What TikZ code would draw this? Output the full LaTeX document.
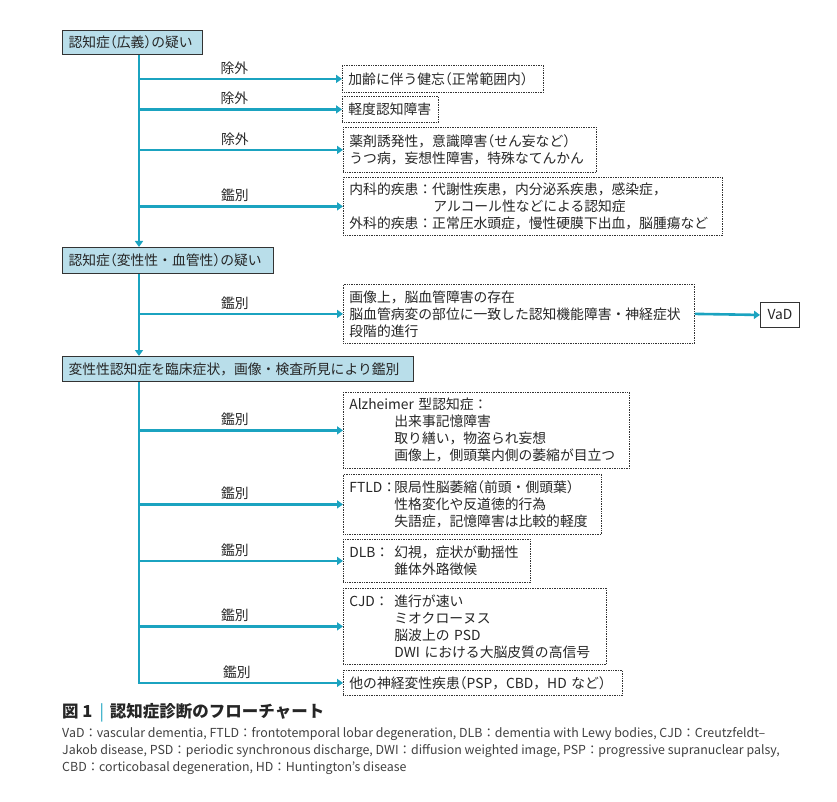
\documentclass[tikz,border=0pt]{standalone}
\usepackage{fontspec}
\setmainfont{Noto Sans CJK JP}
\usetikzlibrary{arrows.meta}
\definecolor{tealA}{HTML}{1BA3C0}
\definecolor{fillB}{HTML}{B9DEEA}
\definecolor{txtC}{HTML}{262626}
\definecolor{bordC}{HTML}{333333}
\definecolor{capC}{HTML}{404040}
\newcommand\LP{\hspace{-0.5em}（}
\newcommand\RP{）\hspace{-0.5em}}
\newcommand\Ind[1]{\makebox[45pt][l]{#1}}
\tikzset{
  basefont/.style={font=\fontsize{13.8}{17}\selectfont},
  mainbox/.style={basefont, draw=bordC, line width=1pt, fill=fillB, text=txtC,
    inner xsep=6pt, inner ysep=0pt, anchor=north west, align=left},
  dbox/.style={basefont, draw=bordC, line width=0.8pt, dash pattern=on 0.8pt off 0.9pt,
    text=txtC, inner xsep=6pt, inner ysep=0pt, anchor=north west, align=left},
  vadbox/.style={basefont, draw=bordC, line width=0.9pt, fill=white, text=txtC,
    inner xsep=0pt, inner ysep=0pt, anchor=north west, align=center},
  lbl/.style={basefont, text=txtC, inner sep=1pt},
  arr/.style={draw=tealA, line width=2.6pt, -{Triangle[length=6pt,width=8pt]}},
}
\begin{document}
\begin{tikzpicture}[x=1pt,y=-1pt]
\useasboundingbox (0,0) rectangle (837,802);
% main boxes
\node[mainbox, text width=128pt, minimum height=24pt] (b1) at (62,30) {認知症\LP 広義\RP の疑い};
\node[mainbox, text width=199pt, minimum height=26pt] (b2) at (62,247) {認知症\LP 変性性・血管性\RP の疑い};
\node[mainbox, text width=339pt, minimum height=25pt] (b3) at (62,356) {変性性認知症を臨床症状，画像・検査所見により鑑別};
% exclusion / differential boxes
\node[dbox, text width=189pt, minimum height=27pt] (e1) at (342,65) {加齢に伴う健忘\LP 正常範囲内\RP};
\node[dbox, text width=84pt, minimum height=26pt] (e2) at (342,96) {軽度認知障害};
\node[dbox, text width=241pt, minimum height=45pt] (e3) at (343,127) {薬剤誘発性，意識障害\LP せん妄など\RP\\うつ病，妄想性障害，特殊なてんかん};
\node[dbox, text width=367pt, minimum height=58pt] (e4) at (343,177) {内科的疾患：代謝性疾患，内分泌系疾患，感染症，\\\hspace*{84pt}アルコール性などによる認知症\\外科的疾患：正常圧水頭症，慢性硬膜下出血，脳腫瘍など};
\node[dbox, text width=339pt, minimum height=59pt] (v1) at (343,284) {画像上，脳血管障害の存在\\脳血管病変の部位に一致した認知機能障害・神経症状\\段階的進行};
\node[vadbox, minimum width=39pt, minimum height=25pt] (vad) at (760,302) {VaD};
\node[dbox, text width=274pt, minimum height=76pt] (d1) at (343,392) {Alzheimer 型認知症：\\\Ind{}出来事記憶障害\\\Ind{}取り繕い，物盗られ妄想\\\Ind{}画像上，側頭葉内側の萎縮が目立つ};
\node[dbox, text width=246pt, minimum height=60pt] (d2) at (343,474) {\Ind{FTLD：}限局性脳萎縮\LP 前頭・側頭葉\RP\\\Ind{}性格変化や反道徳的行為\\\Ind{}失語症，記憶障害は比較的軽度};
\node[dbox, text width=175pt, minimum height=43pt] (d3) at (343,539) {\Ind{DLB：}幻視，症状が動揺性\\\Ind{}錐体外路徴候};
\node[dbox, text width=251pt, minimum height=76pt] (d4) at (343,588) {\Ind{CJD：}進行が速い\\\Ind{}ミオクローヌス\\\Ind{}脳波上の PSD\\\Ind{}DWI における大脳皮質の高信号};
\node[dbox, text width=267pt, minimum height=25pt] (d5) at (343,670) {他の神経変性疾患\LP PSP，CBD，HD など\RP};
% trunk
\coordinate (T) at (139,0);
\draw[arr] (T |- b1.south) -- (T |- b2.north);
\draw[arr] (T |- b2.south) -- (T |- b3.north);
\draw[arr] (T |- b3.south) |- (d5.west) node[lbl, pos=0.74, above=2pt] (l10) {鑑別};
% branches
\draw[arr] (T |- e1.west) -- (e1.west) node[lbl, pos=0.47, above=2pt] (l1) {除外};
\draw[arr] (T |- e2.west) -- (e2.west) node[lbl, pos=0.47, above=2pt] (l2) {除外};
\draw[arr] (T |- e3.west) -- (e3.west) node[lbl, pos=0.47, above=2pt] (l3) {除外};
\draw[arr] (T |- e4.west) -- (e4.west) node[lbl, pos=0.47, above=2pt] (l4) {鑑別};
\draw[arr] (T |- v1.west) -- (v1.west) node[lbl, pos=0.47, above=2pt] (l5) {鑑別};
\draw[arr] (v1.east) -- (vad.west);
\draw[arr] (T |- d1.west) -- (d1.west) node[lbl, pos=0.47, above=2pt] (l6) {鑑別};
\draw[arr] (T |- d2.west) -- (d2.west) node[lbl, pos=0.47, above=2pt] (l7) {鑑別};
\draw[arr] (T |- d3.west) -- (d3.west) node[lbl, pos=0.47, above=2pt] (l8) {鑑別};
\draw[arr] (T |- d4.west) -- (d4.west) node[lbl, pos=0.47, above=2pt] (l9) {鑑別};
% caption
\node[anchor=west, inner sep=0pt, text=black!85, font=\fontsize{16.5}{18}\selectfont\bfseries] (cap) at (62,713) {図 1\hspace{7pt}{\color{tealA}\mdseries |}\hspace{6pt}認知症診断のフローチャート};
\node[anchor=west, inner sep=0pt, text=capC, font=\fontsize{12.4}{14}\selectfont] (c1) at (62,734) {VaD：vascular dementia, FTLD：frontotemporal lobar degeneration, DLB：dementia with Lewy bodies, CJD：Creutzfeldt–};
\node[anchor=west, inner sep=0pt, text=capC, font=\fontsize{12.4}{14}\selectfont] (c2) at (62,751) {Jakob disease, PSD：periodic synchronous discharge, DWI：diffusion weighted image, PSP：progressive supranuclear palsy,};
\node[anchor=west, inner sep=0pt, text=capC, font=\fontsize{12.4}{14}\selectfont] (c3) at (62,768) {CBD：corticobasal degeneration, HD：Huntington’s disease};
\end{tikzpicture}
\end{document}
